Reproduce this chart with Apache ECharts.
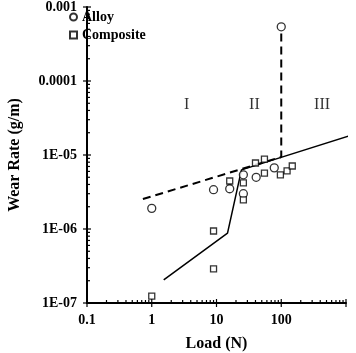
<!DOCTYPE html>
<html>
<head>
<meta charset="utf-8">
<script src="https://cdn.jsdelivr.net/npm/echarts@6/dist/echarts.min.js"></script>
<style>
  html, body { margin: 0; padding: 0; background: #fff; }
  #chart { width: 356px; height: 353px; }
</style>
</head>
<body>
<div id="chart"></div>
<script>
// measured points
const alloyLoad = [1, 9, 16, 26, 26, 41, 78, 100]
const alloyWear = [1.9e-6, 3.4e-6, 3.5e-6, 5.4e-6, 3.0e-6, 5.0e-6, 6.7e-6, 5.4e-4]
const compositeLoad = [1, 9, 9, 16, 26, 26, 40, 55, 55, 97, 123, 148]
const compositeWear = [1.24e-7, 9.4e-7, 2.9e-7, 4.45e-6, 4.2e-6, 2.47e-6, 7.8e-6, 8.8e-6, 5.7e-6, 5.4e-6, 6.1e-6, 7.1e-6]

// trend lines
const alloyFitLoad = [0.73, 100, 100]
const alloyFitWear = [2.54e-6, 9.4e-6, 4.6e-4]
const compositeFitLoad = [1.53, 14.8, 24.3, 1230]
const compositeFitWear = [2.05e-7, 8.8e-7, 6.3e-6, 1.86e-5]

// regime labels
const regimeNames = ['I', 'II', 'III']
const regimeLoad = [3.45, 38.5, 427]
const regimeWear = [4.7e-5, 4.7e-5, 4.7e-5]

// axes
const xTicks = [0.1, 1, 10, 100, 1000]
const xTickLabels = ['0.1', '1', '10', '100', '']
const yTicks = [1e-7, 1e-6, 1e-5, 1e-4, 1e-3]
const yTickLabels = ['1E-07', '1E-06', '1E-05', '0.0001', '0.001']

const serif = '"Liberation Serif", "Times New Roman", serif'

function zip(a, b) {
  return a.map((v, i) => [v, b[i]])
}

function minorTicks(ticks) {
  const out = []
  for (let i = 0; i < ticks.length - 1; i++) {
    for (let k = 2; k < 10; k++) out.push(ticks[i] * k)
  }
  return out
}

function labelFor(ticks, labels, v) {
  for (let i = 0; i < ticks.length; i++) {
    if (Math.abs(Math.log10(v) - Math.log10(ticks[i])) < 1e-6) return labels[i]
  }
  return ''
}

const xTickAll = xTicks.concat(minorTicks(xTicks))
const yTickAll = yTicks.concat(minorTicks(yTicks))

const chart = echarts.init(document.getElementById('chart'))

chart.setOption({
  animation: false,
  grid: { left: 87, right: 10, top: 7, bottom: 50, containLabel: false, outerBoundsMode: 'none' },
  legend: {
    orient: 'vertical',
    left: 69,
    top: 10,
    padding: 0,
    itemWidth: 7,
    itemHeight: 7,
    itemGap: 4,
    data: ['Alloy', 'Composite'],
    textStyle: { fontFamily: serif, fontWeight: 'bold', fontSize: 14, color: '#000' }
  },
  xAxis: {
    type: 'log',
    logBase: 10,
    min: 0.1,
    max: 1000,
    name: 'Load (N)',
    nameLocation: 'middle',
    nameGap: 33,
    nameTextStyle: { fontFamily: serif, fontWeight: 'bold', fontSize: 16, color: '#000' },
    axisLine: { lineStyle: { color: '#000', width: 2 } },
    axisTick: { show: false },
    splitLine: { show: false },
    axisLabel: {
      margin: 10,
      fontFamily: serif, fontWeight: 'bold', fontSize: 14, color: '#000',
      formatter: v => labelFor(xTicks, xTickLabels, v)
    }
  },
  yAxis: {
    type: 'log',
    logBase: 10,
    min: 1e-7,
    max: 1e-3,
    name: 'Wear Rate (g/m)',
    nameLocation: 'middle',
    nameGap: 64,
    nameRotate: 90,
    nameTextStyle: { fontFamily: serif, fontWeight: 'bold', fontSize: 16, color: '#000' },
    axisLine: { lineStyle: { color: '#000', width: 2 } },
    axisTick: { show: false },
    splitLine: { show: false },
    axisLabel: {
      margin: 10,
      fontFamily: serif, fontWeight: 'bold', fontSize: 14, color: '#000',
      formatter: v => labelFor(yTicks, yTickLabels, v)
    }
  },
  series: [
    {
      name: 'Alloy fit',
      type: 'line',
      data: zip(alloyFitLoad, alloyFitWear),
      symbol: 'none',
      clip: false,
      lineStyle: { color: '#000', width: 2, type: [8, 5] }
    },
    {
      name: 'Composite fit',
      type: 'line',
      data: zip(compositeFitLoad, compositeFitWear),
      symbol: 'none',
      clip: false,
      lineStyle: { color: '#000', width: 1.5 }
    },
    {
      name: 'Alloy',
      type: 'scatter',
      data: zip(alloyLoad, alloyWear),
      symbol: 'circle',
      symbolSize: 8,
      z: 5,
      itemStyle: { color: '#fff', borderColor: '#000', borderWidth: 1.3 }
    },
    {
      name: 'Composite',
      type: 'scatter',
      data: zip(compositeLoad, compositeWear),
      symbol: 'rect',
      symbolSize: 6,
      z: 5,
      itemStyle: { color: '#fff', borderColor: '#000', borderWidth: 1.3 }
    },
    {
      name: 'regimes',
      type: 'scatter',
      data: regimeNames.map((n, i) => ({ name: n, value: [regimeLoad[i], regimeWear[i]] })),
      symbolSize: 0,
      silent: true,
      label: {
        show: true,
        position: 'inside',
        formatter: '{b}',
        fontFamily: serif,
        fontSize: 16,
        color: '#000'
      }
    },
    {
      name: 'x ticks',
      type: 'custom',
      silent: true,
      clip: false,
      z: 10,
      data: xTickAll.map(v => [v, 1e-7]),
      renderItem: (params, api) => {
        const p = api.coord([api.value(0), api.value(1)])
        const major = params.dataIndex < xTicks.length
        return {
          type: 'line',
          shape: { x1: p[0], y1: p[1] + (major ? 4 : 0), x2: p[0], y2: p[1] - (major ? 4 : 3) },
          style: { stroke: '#000', lineWidth: 1.2 }
        }
      }
    },
    {
      name: 'y ticks',
      type: 'custom',
      silent: true,
      clip: false,
      z: 10,
      data: yTickAll.map(v => [0.1, v]),
      renderItem: (params, api) => {
        const p = api.coord([api.value(0), api.value(1)])
        const major = params.dataIndex < yTicks.length
        return {
          type: 'line',
          shape: { x1: p[0] - (major ? 4 : 0), y1: p[1], x2: p[0] + (major ? 4 : 3), y2: p[1] },
          style: { stroke: '#000', lineWidth: 1.2 }
        }
      }
    }
  ]
})
</script>
</body>
</html>
